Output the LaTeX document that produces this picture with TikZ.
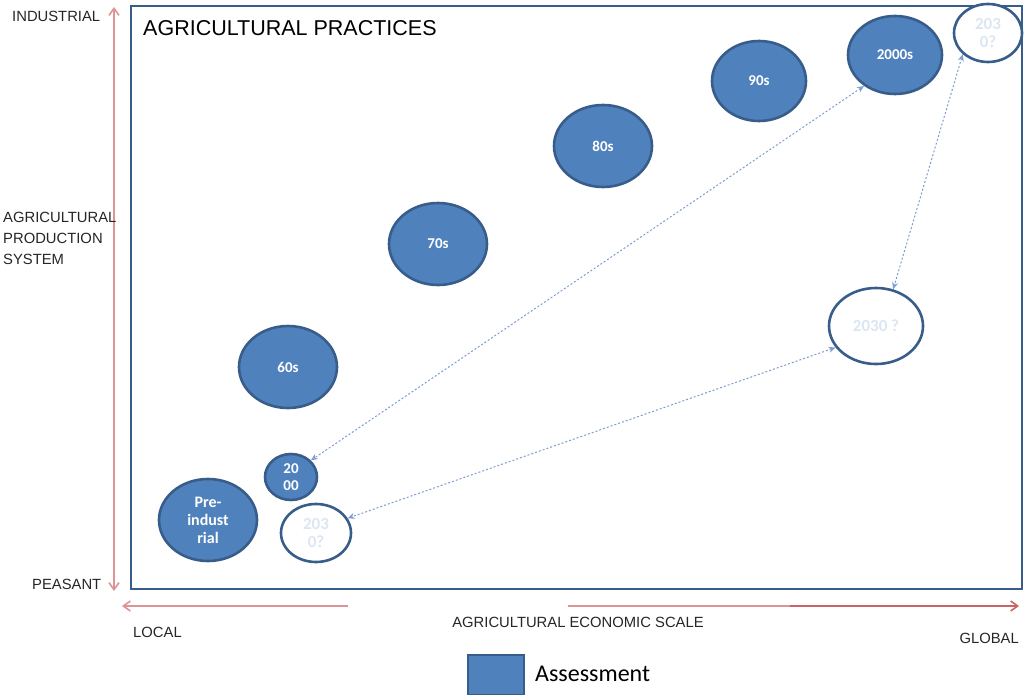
\documentclass[tikz,border=0pt]{standalone}
\usepackage{fontspec}
\setmainfont{Carlito}
\newfontfamily\axisfont{Liberation Sans}
\usetikzlibrary{arrows.meta,shapes.geometric}
\definecolor{assess}{HTML}{4F81BD}
\definecolor{rimblue}{HTML}{385D8A}
\definecolor{linkblue}{HTML}{7C9DD0}
\definecolor{axisred}{HTML}{DC9494}
\definecolor{axisdark}{HTML}{CB6464}
\definecolor{paletxt}{HTML}{DCE6F2}
\tikzset{
  era/.style={ellipse, draw=rimblue, line width=2.6pt, fill=assess, text=white,
    font=\fontsize{15}{15}\selectfont\bfseries, align=center, inner sep=0pt},
  future/.style={ellipse, draw=rimblue, line width=2.6pt, fill=white, text=paletxt,
    font=\fontsize{17}{18}\selectfont\bfseries, align=center, inner sep=0pt},
  link/.style={draw=linkblue, line width=1pt, dash pattern=on 2pt off 2pt,
    {Stealth[length=7pt,width=6pt,open]}-{Stealth[length=7pt,width=6pt,open]}},
  axis/.style={draw=axisred, line width=1.6pt},
  barb/.tip={Straight Barb[length=7pt,width=10pt]},
  axlabel/.style={font=\axisfont\fontsize{14.8}{21}\selectfont, text=black!85, inner sep=0pt}
}
\begin{document}
\begin{tikzpicture}[x=1pt,y=-1pt]
\useasboundingbox (0,0) rectangle (1027,695);
% frame
\node[draw=rimblue, line width=2.4pt, minimum width=891pt, minimum height=583pt, inner sep=0pt]
  (frame) at (576.5,297.5) {};
\node[anchor=west, font=\axisfont\fontsize{21.5}{21.5}\selectfont, inner sep=0pt] (title) at (143,28) {AGRICULTURAL PRACTICES};
% vertical axis
\coordinate (vtop) at (114,7);
\coordinate (vbot) at (114,591);
\draw[axis, barb-barb] (vtop) -- (vbot);
% horizontal axis: short left part towards LOCAL, long right part towards GLOBAL
\coordinate (hl1) at (122,606);
\coordinate (hl2) at (348,606);
\coordinate (hr1) at (568,606);
\coordinate (hrm) at (790,606);
\coordinate (hr2) at (1019,606);
\draw[axis, barb-] (hl1) -- (hl2);
\draw[axis] (hr1) -- (hrm);
\draw[axis, draw=axisdark, -barb] (hrm) -- (hr2);
% axis labels
\node[axlabel, anchor=west] (ind) at (12,16) {INDUSTRIAL};
\node[axlabel, anchor=north west, align=left] (aps) at (3,212) {AGRICULTURAL\\PRODUCTION\\SYSTEM};
\node[axlabel, anchor=west] (pea) at (32,584) {PEASANT};
\node[axlabel, anchor=west] (loc) at (133,632) {LOCAL};
\node[axlabel] (aes) at (578,622) {AGRICULTURAL ECONOMIC SCALE};
\node[axlabel, anchor=east] (glo) at (1019,638) {GLOBAL};
% legend
\node[draw=rimblue, line width=1.5pt, fill=assess, minimum width=56pt, minimum height=40pt, inner sep=0pt] (legbox) at (496,675) {};
\node[anchor=west, font=\fontsize{24}{24}\selectfont, inner sep=0pt] (legtxt) at (535,674) {Assessment};
% assessments
\node[era, minimum width=98pt, minimum height=82pt, font=\fontsize{16}{18}\selectfont\bfseries] (pre) at (208,520) {Pre-\\indust\\rial};
\node[era, minimum width=52pt, minimum height=46pt, font=\fontsize{15}{17}\selectfont\bfseries] (y2000) at (291,477) {20\\00};
\node[future, minimum width=70pt, minimum height=58pt] (f1) at (316,533) {203\\0?};
\node[era, minimum width=98pt, minimum height=82pt] (s60) at (288,367) {60s};
\node[era, minimum width=98pt, minimum height=82pt] (s70) at (438,244) {70s};
\node[era, minimum width=98pt, minimum height=82pt] (s80) at (603,146) {80s};
\node[era, minimum width=94pt, minimum height=80pt] (s90) at (759,81) {90s};
\node[era, minimum width=94pt, minimum height=78pt] (s2000) at (895,55) {2000s};
\node[future, minimum width=68pt, minimum height=58pt] (f2) at (988,33) {203\\0?};
\node[future, minimum width=94pt, minimum height=76pt] (f3) at (876,326) {2030 ?};
% links
\draw[link] (s2000.225) -- (y2000.40);
\draw[link] (f2.220) -- (f3.65);
\draw[link] (f3.208) -- (f1.25);
\end{tikzpicture}
\end{document}
